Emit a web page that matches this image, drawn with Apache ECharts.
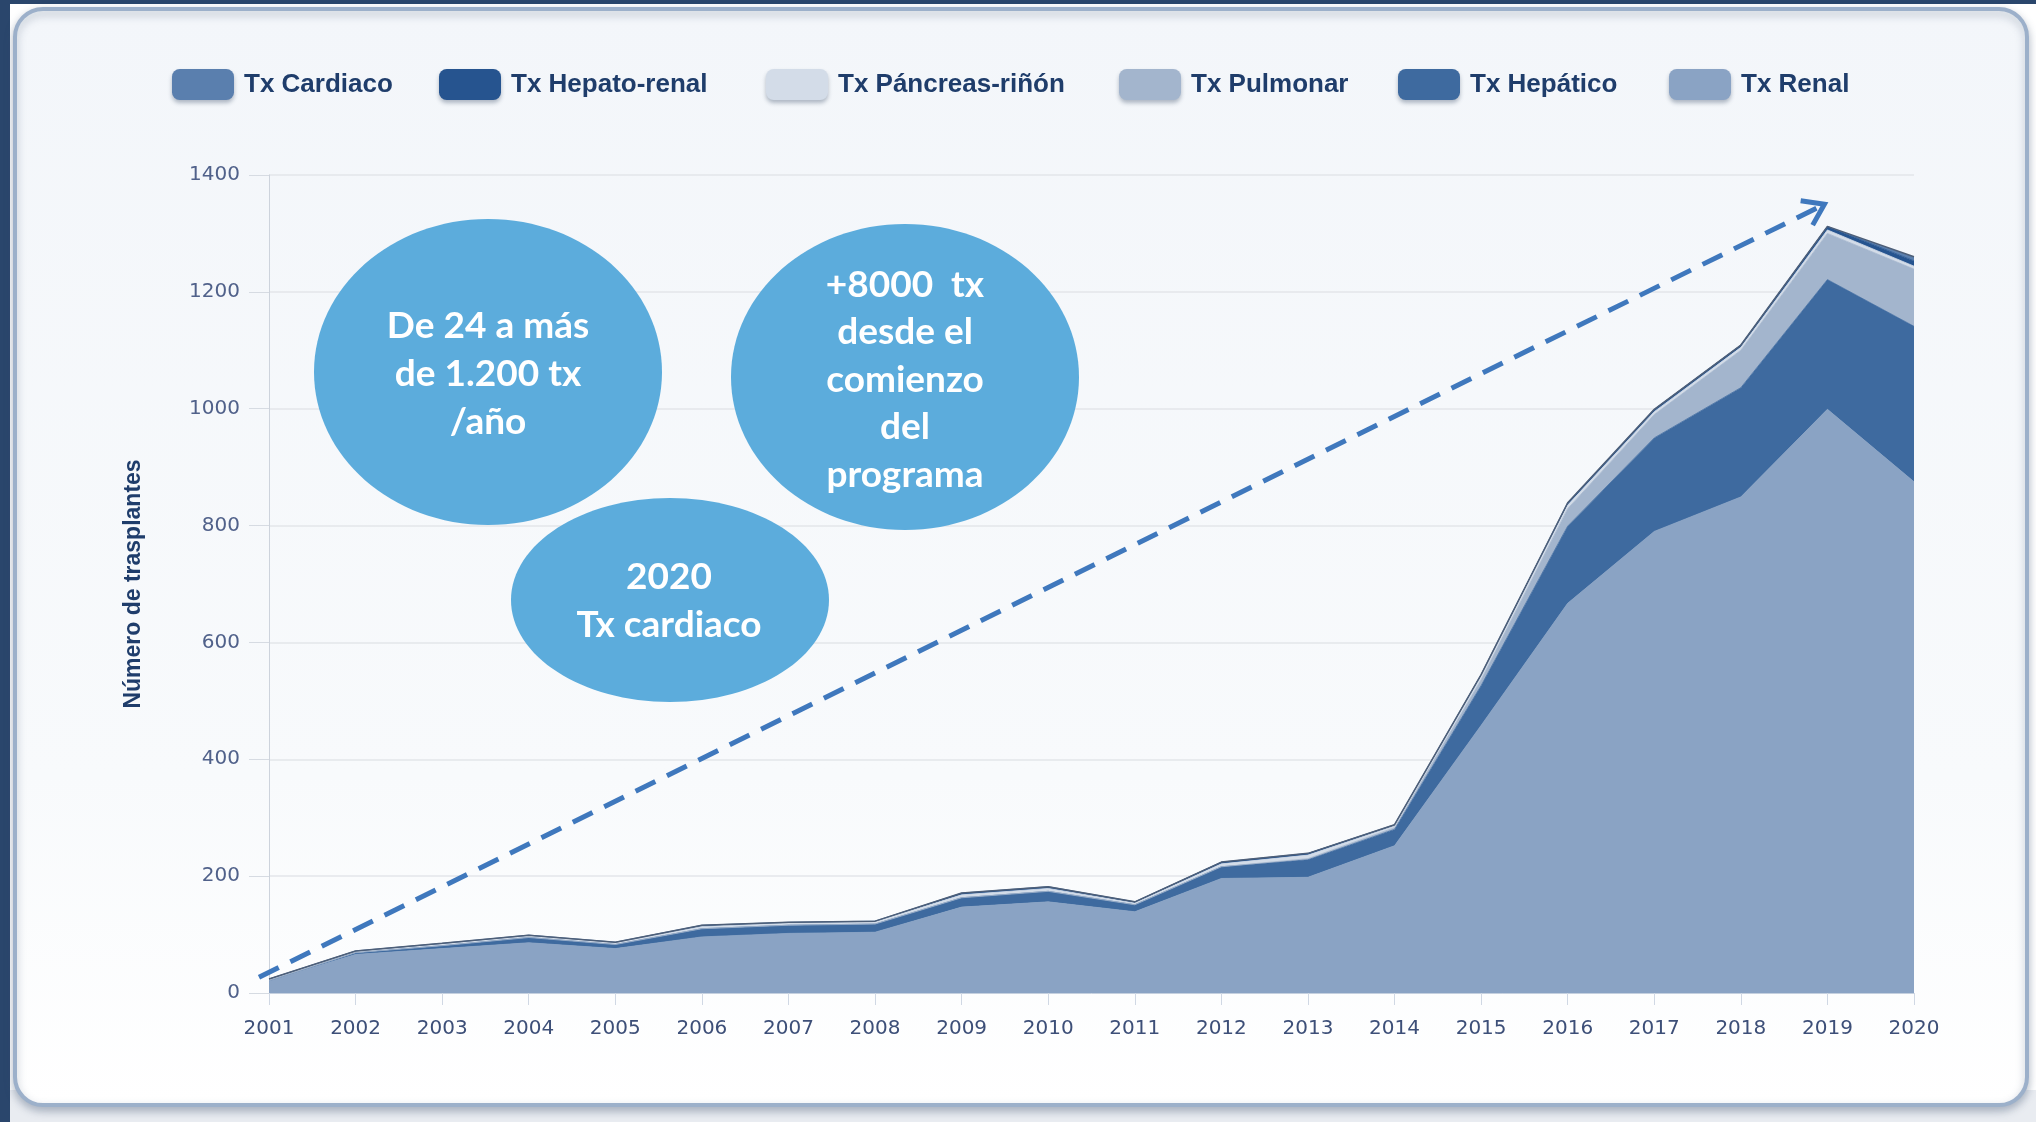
<!DOCTYPE html>
<html>
<head>
<meta charset="utf-8">
<script src="https://cdn.jsdelivr.net/npm/echarts@6/dist/echarts.min.js"></script>
<style>
html,body{margin:0;padding:0;background:#ffffff;}
#c{width:2036px;height:1122px;}
</style>
</head>
<body>
<div id="c"></div>
<script>
const years = ['2001','2002','2003','2004','2005','2006','2007','2008','2009','2010','2011','2012','2013','2014','2015','2016','2017','2018','2019','2020'];
const txRenal       = [21, 66, 76, 86, 76, 96, 102, 104, 147, 156, 139, 196, 198, 252, 458, 667, 790, 849, 999, 875];
const txHepatico    = [0, 3, 5, 9, 7, 14, 14, 14, 16, 18, 12, 20, 30, 28, 68, 132, 160, 187, 222, 266];
const txPulmonar    = [0, 0, 0, 0, 0, 0, 0, 0, 0, 0, 0, 0, 2, 3, 10, 30, 40, 64, 79, 98];
const txPancreas    = [2, 2, 3, 3, 3, 4, 4, 4, 5, 5, 3, 5, 6, 3, 6, 6, 5, 5, 6, 5];
const txHepatoRenal = [1, 1, 1, 1, 1, 2, 1, 1, 3, 3, 2, 3, 3, 2, 3, 4, 4, 4, 6, 9];
const txCardiaco    = [0, 0, 0, 0, 0, 0, 0, 0, 0, 0, 0, 0, 0, 0, 0, 0, 0, 0, 0, 7];
const yTicks = [0, 200, 400, 600, 800, 1000, 1200, 1400];
const legendNames = ['Tx Cardiaco', 'Tx Hepato-renal', 'Tx Páncreas-riñón', 'Tx Pulmonar', 'Tx Hepático', 'Tx Renal'];
const arrowStart = {cat: 0, offset: -10, value: 27};
const arrowEnd = {cat: 18, offset: -3, value: 1350};

const seriesDefs = [
  {name: 'Tx Renal', data: txRenal, color: '#8aa3c4'},
  {name: 'Tx Hepático', data: txHepatico, color: '#3e6a9f'},
  {name: 'Tx Pulmonar', data: txPulmonar, color: '#a3b5cd'},
  {name: 'Tx Páncreas-riñón', data: txPancreas, color: '#d3dce8'},
  {name: 'Tx Hepato-renal', data: txHepatoRenal, color: '#26548f'},
  {name: 'Tx Cardiaco', data: txCardiaco, color: '#5a7fae'}
];

const chart = echarts.init(document.getElementById('c'), null, {renderer: 'canvas'});

const legendLeft = [172, 439, 766, 1119, 1398, 1669];
const legends = legendNames.map((n, i) => ({
  data: [{name: n}],
  left: legendLeft[i],
  top: 69,
  padding: 0,
  icon: 'roundRect',
  itemWidth: 62,
  itemHeight: 31,
  selectedMode: false,
  itemStyle: {shadowBlur: 4, shadowColor: 'rgba(40,60,90,0.35)', shadowOffsetY: 3},
  textStyle: {color: '#1f3d6b', fontFamily: 'Liberation Sans, Arial, sans-serif', fontWeight: 'bold', fontSize: 26, padding: [0, 0, 0, 5]}
}));

const series = seriesDefs.map((s, i) => ({
  name: s.name,
  type: 'line',
  stack: 'total',
  data: s.data,
  color: s.color,
  symbol: 'none',
  smooth: false,
  itemStyle: {color: s.color},
  lineStyle: i === seriesDefs.length - 1 ? {width: 1.5, color: '#4e5f78'} : {width: 0.8, color: s.color},
  areaStyle: {color: s.color, opacity: 1},
  emphasis: {disabled: true},
  z: 3
}));

const option = {
  animation: false,
  backgroundColor: '#ffffff',
  legend: legends,
  grid: {left: 269, right: 122, top: 175, bottom: 129, containLabel: false},
  xAxis: {
    type: 'category',
    data: years,
    boundaryGap: false,
    axisLine: {lineStyle: {color: '#c5d0df', width: 1}},
    axisTick: {show: true, length: 12, lineStyle: {color: '#d0d8e4'}},
    axisLabel: {color: '#3d4f78', fontFamily: 'DejaVu Sans, sans-serif', fontSize: 20, margin: 26}
  },
  yAxis: {
    type: 'value',
    min: yTicks[0],
    max: yTicks[yTicks.length - 1],
    interval: yTicks[1] - yTicks[0],
    name: 'Número de trasplantes',
    nameLocation: 'middle',
    nameGap: 124,
    nameRotate: 90,
    nameTextStyle: {color: '#1f3d6b', fontFamily: 'Liberation Sans, Arial, sans-serif', fontWeight: 'bold', fontSize: 23},
    axisLine: {show: true, lineStyle: {color: '#cdd3dc', width: 1}},
    axisTick: {show: true, length: 20, lineStyle: {color: '#d6dbe2'}},
    axisLabel: {color: '#50618a', fontFamily: 'DejaVu Sans, sans-serif', fontSize: 20, margin: 29, formatter: v => String(v)},
    splitLine: {lineStyle: {color: '#e3e6ea', width: 1.5}}
  },
  series: series
};

chart.setOption(option);

function px(pt) {
  const p = chart.convertToPixel({gridIndex: 0}, [years[pt.cat], pt.value]);
  return [p[0] + pt.offset, p[1]];
}
const a0 = px(arrowStart);
const a1 = px(arrowEnd);
const ang = Math.atan2(a1[1] - a0[1], a1[0] - a0[0]);
const armLen = 24, armAng = 0.6;
const armA = [a1[0] - armLen * Math.cos(ang - armAng), a1[1] - armLen * Math.sin(ang - armAng)];
const armB = [a1[0] - armLen * Math.cos(ang + armAng), a1[1] - armLen * Math.sin(ang + armAng)];

const whiteFont = 'bold 37px Lato, "Open Sans", sans-serif';

chart.setOption({
  graphic: [
    {type: 'rect', z: -20, silent: true, shape: {x: 0, y: 0, width: 2036, height: 1122}, style: {fill: '#ffffff'}},
    {type: 'rect', z: -19, silent: true, shape: {x: 0, y: 1090, width: 2036, height: 32}, style: {fill: '#e9ecf1'}},
    {type: 'rect', z: -19, silent: true, shape: {x: 0, y: 0, width: 10, height: 1122}, style: {fill: '#2a466c'}},
    {type: 'rect', z: -19, silent: true, shape: {x: 0, y: 0, width: 2036, height: 4}, style: {fill: '#2a466c'}},
    {type: 'rect', z: -18, silent: true,
      shape: {x: 15, y: 9, width: 2012, height: 1096, r: 28},
      style: {
        fill: new echarts.graphic.LinearGradient(0, 0, 0, 1, [{offset: 0, color: '#f3f6fa'}, {offset: 0.7, color: '#f8fafc'}, {offset: 1, color: '#ffffff'}]),
        stroke: '#9cb0ca', lineWidth: 4,
        shadowBlur: 8, shadowColor: 'rgba(60,80,110,0.35)', shadowOffsetY: 4
      }},
    {type: 'polyline', z: 50, silent: true, shape: {points: [a0, a1]},
      style: {stroke: '#3f78bd', lineWidth: 5, lineDash: [22, 13], fill: null}},
    {type: 'polyline', z: 50, silent: true, shape: {points: [armA, a1, armB]},
      style: {stroke: '#3f78bd', lineWidth: 5, fill: null, lineJoin: 'miter'}},
    {type: 'ellipse', z: 60, silent: true, shape: {cx: 488, cy: 372, rx: 174, ry: 153}, style: {fill: '#5cacdc'}},
    {type: 'ellipse', z: 60, silent: true, shape: {cx: 905, cy: 377, rx: 174, ry: 153}, style: {fill: '#5cacdc'}},
    {type: 'ellipse', z: 61, silent: true, shape: {cx: 670, cy: 600, rx: 159, ry: 102}, style: {fill: '#5cacdc'}},
    {type: 'text', z: 70, silent: true, x: 488, y: 374,
      style: {text: 'De 24 a más\nde 1.200 tx\n/año', fill: '#ffffff', font: whiteFont, lineHeight: 48, align: 'center', verticalAlign: 'middle'}},
    {type: 'text', z: 70, silent: true, x: 905, y: 380,
      style: {text: '+8000  tx\ndesde el\ncomienzo\ndel\nprograma', fill: '#ffffff', font: whiteFont, lineHeight: 47.5, align: 'center', verticalAlign: 'middle'}},
    {type: 'text', z: 70, silent: true, x: 669, y: 601,
      style: {text: '2020\nTx cardiaco', fill: '#ffffff', font: whiteFont, lineHeight: 48, align: 'center', verticalAlign: 'middle'}}
  ]
});
</script>
</body>
</html>
